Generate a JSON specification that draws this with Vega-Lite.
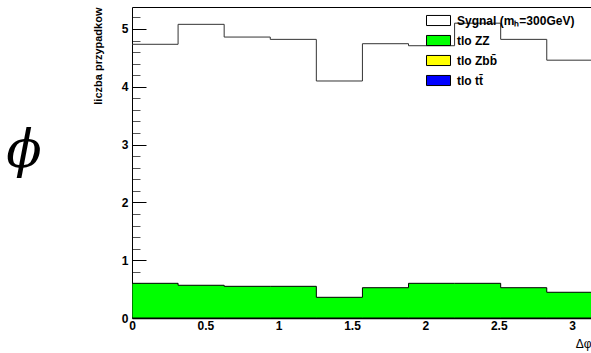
{
  "$schema": "https://vega.github.io/schema/vega-lite/v6.json",
  "width": 459,
  "height": 311,
  "autosize": "none",
  "padding": {"left": 132, "top": 7, "right": 0, "bottom": 35},
  "background": "white",
  "view": {"stroke": null},
  "config": {"font": "Liberation Sans"},
  "title": {"text": "ϕ", "orient": "left", "angle": 0, "font": "DejaVu Serif", "fontStyle": "italic", "fontWeight": "normal", "fontSize": 52, "color": "black", "anchor": "middle", "offset": 33, "dy": -37},
  "data": {
    "values": [
      {"bin": 0, "x0": 0.0, "x1": 0.3142, "sig": 4.735, "zz": 0.600, "zbb": 0, "tt": 0},
      {"bin": 1, "x0": 0.3142, "x1": 0.6283, "sig": 5.08, "zz": 0.566, "zbb": 0, "tt": 0},
      {"bin": 2, "x0": 0.6283, "x1": 0.9425, "sig": 4.86, "zz": 0.548, "zbb": 0, "tt": 0},
      {"bin": 3, "x0": 0.9425, "x1": 1.2566, "sig": 4.82, "zz": 0.548, "zbb": 0, "tt": 0},
      {"bin": 4, "x0": 1.2566, "x1": 1.5708, "sig": 4.10, "zz": 0.358, "zbb": 0, "tt": 0},
      {"bin": 5, "x0": 1.5708, "x1": 1.8850, "sig": 4.745, "zz": 0.524, "zbb": 0, "tt": 0},
      {"bin": 6, "x0": 1.8850, "x1": 2.1991, "sig": 4.71, "zz": 0.600, "zbb": 0, "tt": 0},
      {"bin": 7, "x0": 2.1991, "x1": 2.5133, "sig": 5.10, "zz": 0.600, "zbb": 0, "tt": 0},
      {"bin": 8, "x0": 2.5133, "x1": 2.8274, "sig": 4.82, "zz": 0.524, "zbb": 0, "tt": 0},
      {"bin": 9, "x0": 2.8274, "x1": 3.1416, "sig": 4.46, "zz": 0.445, "zbb": 0, "tt": 0}
    ]
  },
  "transform": [{"fold": ["x0", "x1"], "as": ["edge", "xpos"]}],
  "layer": [
    {
      "mark": {"type": "area", "clip": true, "stroke": "black", "strokeWidth": 1, "fillOpacity": 1},
      "encoding": {
        "x": {
          "field": "xpos", "type": "quantitative",
          "scale": {"domain": [0, 3.129], "nice": false, "zero": false},
          "axis": {
            "values": [0, 0.5, 1, 1.5, 2, 2.5, 3], "tickCount": 20, "format": "~g",
            "ticks": false,
            "labelFont": "Liberation Sans", "labelFontWeight": "bold", "labelFontSize": 12, "labelColor": "black",
            "labelPadding": 2, "labelFlush": false, "labelOverlap": false,
            "domainColor": "black", "domainWidth": 1.5, "grid": false,
            "title": "Δφ", "titleFont": "Liberation Sans", "titleFontWeight": "normal", "titleFontSize": 12,
            "titleColor": "black", "titleAnchor": "end", "titleAlign": "right", "titlePadding": 7
          }
        },
        "y": {
          "field": "zz", "type": "quantitative", "stack": null,
          "scale": {"domain": [0, 5.38], "nice": false},
          "title": "liczba przypadkow",
          "axis": {
            "values": [0, 0.2, 0.4, 0.6, 0.8, 1, 1.2, 1.4, 1.6, 1.8, 2, 2.2, 2.4, 2.6, 2.8, 3, 3.2, 3.4, 3.6, 3.8, 4, 4.2, 4.4, 4.6, 4.8, 5, 5.2],
            "tickCount": 60, "format": "~g",
            "labelExpr": "datum.value % 1 === 0 ? datum.label : ''",
            "tickSize": {"condition": {"test": "datum.value % 1 === 0", "value": -14}, "value": -8},
            "tickColor": {"condition": {"test": "datum.value % 1 === 0", "value": "black"}, "value": "#555"},
            "tickWidth": 1,
            "labelFont": "Liberation Sans", "labelFontWeight": "bold", "labelFontSize": 12, "labelColor": "black",
            "labelPadding": 18, "labelOverlap": false, "labelFlush": false,
            "domainColor": "black", "domainWidth": 1, "grid": false,
            "titleFont": "Liberation Sans", "titleFontWeight": "bold", "titleFontSize": 11, "titleColor": "black",
            "titleAnchor": "end", "titlePadding": 18
          }
        },
        "order": [{"field": "bin", "type": "quantitative"}, {"field": "edge", "type": "ordinal"}],
        "fill": {
          "datum": "tlo ZZ", "type": "nominal",
          "scale": {"domain": ["Sygnal (mₕ=300GeV)", "tlo ZZ", "tlo Zbb̄", "tlo tt̄"], "range": ["#ffffff", "#00ff00", "#ffff00", "#0000ff"]},
          "legend": {
            "orient": "none", "legendX": 294, "legendY": 1, "direction": "vertical", "title": null,
            "symbolType": "M-1,-0.42H1V0.42H-1Z", "symbolSize": 576, "symbolStrokeColor": "black", "symbolStrokeWidth": 1,
            "symbolOpacity": 1,
            "labelFont": "Liberation Sans", "labelFontWeight": "bold", "labelFontSize": 12, "labelColor": "black",
            "labelOffset": 6, "rowPadding": 0, "padding": 0, "labelLimit": 300
          }
        }
      }
    },
    {
      "mark": {"type": "line", "clip": true, "stroke": "#333", "strokeWidth": 1},
      "encoding": {
        "x": {
          "field": "xpos", "type": "quantitative",
          "axis": {"orient": "top", "labels": false, "ticks": false, "domain": true, "domainColor": "black", "domainWidth": 1, "grid": false, "title": null}
        },
        "y": {"field": "sig", "type": "quantitative", "title": "liczba przypadkow"},
        "order": [{"field": "bin", "type": "quantitative"}, {"field": "edge", "type": "ordinal"}]
      }
    }
  ],
  "resolve": {"axis": {"x": "independent"}}
}
